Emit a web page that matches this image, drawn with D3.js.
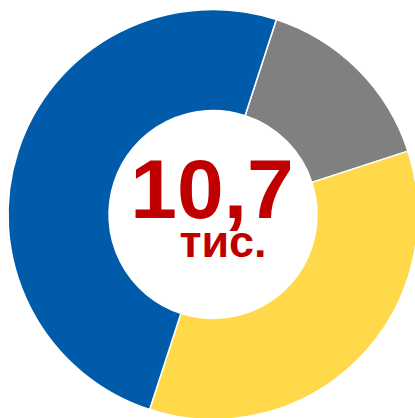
<!DOCTYPE html>
<html>
<head>
<meta charset="utf-8">
<script src="https://cdn.jsdelivr.net/npm/d3@7"></script>
<style>
  html, body { margin: 0; padding: 0; background: #fff; overflow: hidden; }
  svg { display: block; }
</style>
</head>
<body>
<div id="chart"></div>
<script>
// дані (частки, %)
const categories = ['grey', 'yellow', 'blue'];
const values = [15, 35, 50];
const colors = ['#808080', '#FFD94A', '#005BAA'];
const totalLabel = '10,7';
const unitLabel = 'тис.';

const width = 415, height = 418;
const cx = 213, cy = 214.5;
const outerR = 205, innerR = 104;
const startDeg = 18;

const svg = d3.select('#chart').append('svg')
    .attr('width', width)
    .attr('height', height);

const data = categories.map((c, i) => ({ name: c, value: values[i], color: colors[i] }));

const pie = d3.pie()
    .value(d => d.value)
    .sort(null)
    .startAngle(startDeg * Math.PI / 180)
    .endAngle((startDeg + 360) * Math.PI / 180);

const arc = d3.arc()
    .innerRadius(innerR)
    .outerRadius(outerR);

const g = svg.append('g')
    .attr('transform', `translate(${cx},${cy})`);

g.selectAll('path')
    .data(pie(data))
    .enter().append('path')
    .attr('d', arc)
    .attr('fill', d => d.data.color)
    .attr('stroke', '#fff')
    .attr('stroke-width', 1.5);

// підпис у центрі
svg.append('text')
    .attr('x', 212)
    .attr('y', 218)
    .attr('text-anchor', 'middle')
    .style('font-family', '"Liberation Sans", Arial, sans-serif')
    .style('font-weight', 'bold')
    .style('font-size', '84px')
    .style('fill', '#C00000')
    .text(totalLabel);

svg.append('text')
    .attr('x', 223)
    .attr('y', 257)
    .attr('text-anchor', 'middle')
    .style('font-family', '"Liberation Sans", Arial, sans-serif')
    .style('font-weight', 'bold')
    .style('font-size', '45px')
    .style('fill', '#C00000')
    .text(unitLabel);
</script>
</body>
</html>
